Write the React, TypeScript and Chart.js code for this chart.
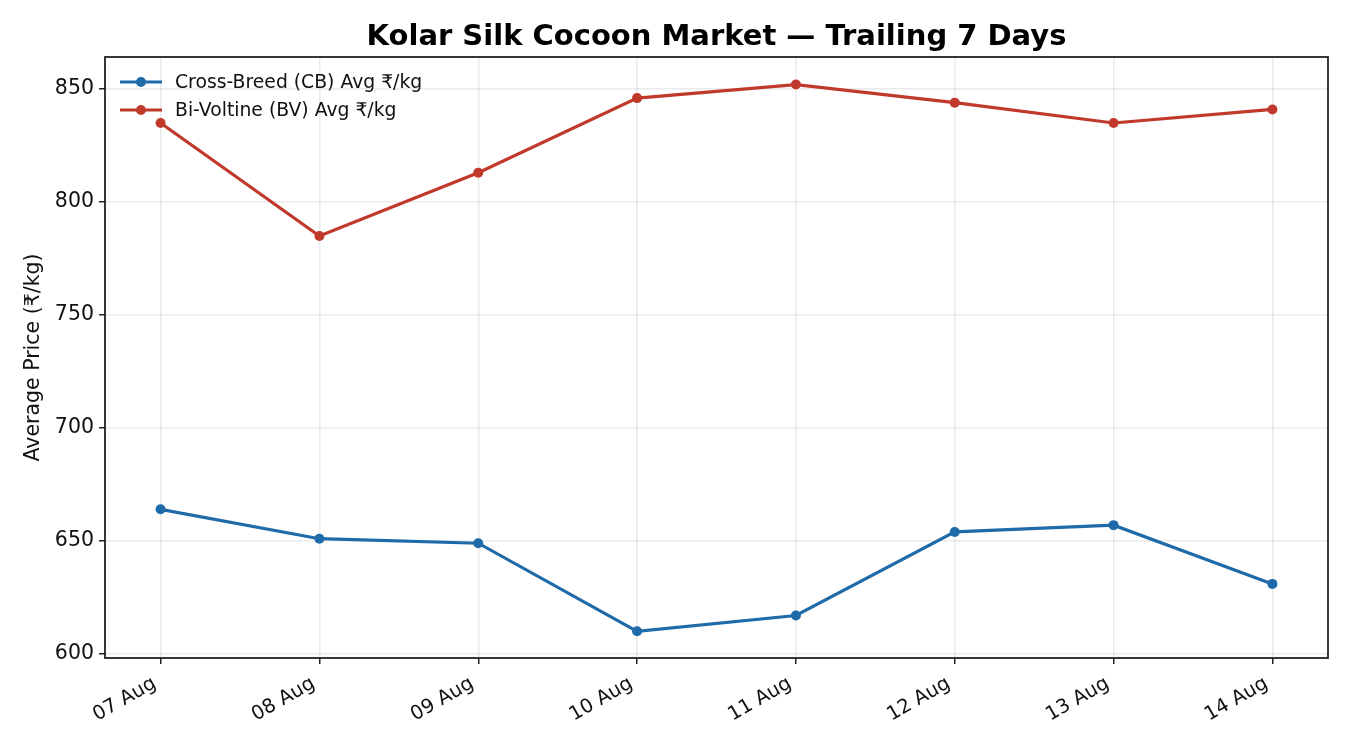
import React, { useEffect, useRef } from "react";
import { Chart, registerables } from "chart.js";

Chart.register(...registerables);

const dates = ["07 Aug", "08 Aug", "09 Aug", "10 Aug", "11 Aug", "12 Aug", "13 Aug", "14 Aug"];
const cbPrices = [664, 651, 649, 610, 617, 654, 657, 631];
const bvPrices = [835, 785, 813, 846, 852, 844, 835, 841];
const yTicks = [600, 650, 700, 750, 800, 850];
const seriesNames = ["Cross-Breed (CB) Avg ₹/kg", "Bi-Voltine (BV) Avg ₹/kg"];
const titleText = "Kolar Silk Cocoon Market — Trailing 7 Days";
const yTitle = "Average Price (₹/kg)";

const BLUE = "#1f6aa8";
const RED = "#c0392b";
const FONT = "'DejaVu Sans', sans-serif";

export default function App() {
  const ref = useRef<HTMLCanvasElement | null>(null);
  useEffect(() => {
    if (!ref.current) return;
    const decor = {
      id: "decor",
      afterDatasetsDraw(chart: any) {
        const { ctx, chartArea } = chart;
        const { left, right, top, bottom } = chartArea;
        ctx.save();
        // frame
        ctx.strokeStyle = "#222";
        ctx.lineWidth = 1.8;
        ctx.strokeRect(left, top, right - left, bottom - top);
        // title
        ctx.fillStyle = "#000";
        ctx.font = `bold 29px ${FONT}`;
        ctx.textAlign = "center";
        ctx.textBaseline = "alphabetic";
        ctx.fillText(titleText, (left + right) / 2, 45);
        // legend
        const colors = [BLUE, RED];
        ctx.font = `18.8px ${FONT}`;
        ctx.textAlign = "left";
        ctx.textBaseline = "middle";
        colors.forEach((c, i) => {
          const y = 82 + i * 28;
          ctx.strokeStyle = c;
          ctx.lineWidth = 3.2;
          ctx.beginPath();
          ctx.moveTo(120, y);
          ctx.lineTo(162, y);
          ctx.stroke();
          ctx.fillStyle = c;
          ctx.beginPath();
          ctx.arc(141, y, 5, 0, Math.PI * 2);
          ctx.fill();
          ctx.fillStyle = "#111";
          ctx.fillText(seriesNames[i], 175, y + 1);
        });
        ctx.restore();
      },
    };
    const chart = new Chart(ref.current, {
      type: "line",
      data: {
        datasets: [
          {
            label: seriesNames[0],
            data: cbPrices.map((v, i) => ({ x: i, y: v })),
            borderColor: BLUE,
            backgroundColor: BLUE,
            borderWidth: 3.2,
            pointRadius: 5,
            pointHoverRadius: 5,
            pointBorderWidth: 0,
            tension: 0,
          },
          {
            label: seriesNames[1],
            data: bvPrices.map((v, i) => ({ x: i, y: v })),
            borderColor: RED,
            backgroundColor: RED,
            borderWidth: 3.2,
            pointRadius: 5,
            pointHoverRadius: 5,
            pointBorderWidth: 0,
            tension: 0,
          },
        ],
      },
      options: {
        animation: false,
        responsive: true,
        maintainAspectRatio: false,
        layout: { padding: { top: 57, right: 22, left: 0, bottom: 0 } },
        plugins: {
          legend: { display: false },
          title: { display: false },
          tooltip: { enabled: false },
        },
        scales: {
          x: {
            type: "linear",
            min: -0.35,
            max: 7.35,
            afterBuildTicks: (s: any) => {
              s.ticks = dates.map((_, i) => ({ value: i }));
            },
            afterFit: (s: any) => {
              s.height = 92;
            },
            ticks: {
              callback: (v: any) => dates[Math.round(Number(v))] ?? "",
              minRotation: 30,
              maxRotation: 30,
              color: "#111",
              font: { family: FONT, size: 19.5 },
              padding: 8,
              labelOffset: -6,
            },
            grid: { color: "rgba(0,0,0,0.08)", lineWidth: 1.5, tickColor: "#222", tickLength: 6, drawTicks: true },
            border: { display: false },
          },
          y: {
            type: "linear",
            min: 598.2,
            max: 864.2,
            afterBuildTicks: (s: any) => {
              s.ticks = yTicks.map((v) => ({ value: v }));
            },
            afterFit: (s: any) => {
              s.width = 105;
            },
            ticks: {
              color: "#111",
              font: { family: FONT, size: 20.5 },
              padding: 5,
            },
            title: {
              display: true,
              text: yTitle,
              color: "#111",
              font: { family: FONT, size: 20.5 },
              padding: { top: 21, bottom: 0 },
            },
            grid: { color: "rgba(0,0,0,0.08)", lineWidth: 1.5, tickColor: "#222", tickLength: 6, drawTicks: true },
            border: { display: false },
          },
        },
      },
      plugins: [decor],
    });
    return () => chart.destroy();
  }, []);
  return (
    <div style={{ position: "absolute", left: 0, top: 0, width: 1350, height: 750, background: "#fff" }}>
      <canvas ref={ref} />
    </div>
  );
}
